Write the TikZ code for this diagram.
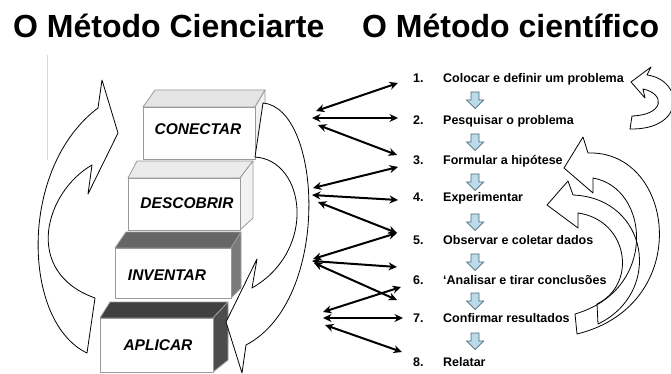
\documentclass[tikz,border=0pt]{standalone}
\usepackage{fontspec}
\setmainfont{Liberation Sans}
\usetikzlibrary{arrows.meta}
\definecolor{arrblue}{HTML}{BCDBE8}
\definecolor{arrline}{HTML}{4A6A78}
\definecolor{boxline}{HTML}{9A9A9A}
\tikzset{
  titletext/.style={font=\fontsize{32}{36}\selectfont\bfseries, inner sep=0pt, anchor=base west},
  itemtext/.style={font=\fontsize{12.5}{14}\selectfont\bfseries, inner sep=0pt, anchor=base west},
  stairtext/.style={font=\fontsize{15.5}{18}\selectfont\bfseries\itshape, inner sep=0pt},
  dbl/.style={{Stealth[length=8.5pt,width=8pt]}-{Stealth[length=8.5pt,width=8pt]}, line width=2pt},
  blockarrow/.style={draw=black, line width=0.8pt, line join=round},
  face/.style={draw=boxline, line width=0.8pt, line join=round},
  downarr/.pic={\draw[fill=arrblue, draw=arrline, line width=0.7pt, line join=miter]
     (-4,-8) -- (4,-8) -- (4,0) -- (8.5,0) -- (0,8.5) -- (-8.5,0) -- (-4,0) -- cycle;}
}
\begin{document}
\begin{tikzpicture}[x=1pt,y=-1pt]
\useasboundingbox (0,0) rectangle (671,374);
\fill[white] (0,0) rectangle (671,374);

% titles
\node[titletext] (t1) at (13,38) {O Método Cienciarte};
\node[titletext] (t2) at (362,38) {O Método científico};

% faint vertical line
\draw[color=black!15, line width=0.8pt] (47,55) -- (47,160);

% left curved block arrow
\path[blockarrow, fill=white] (98,108) -- (102,80) -- (118,133) -- (88,194) -- (92,165)
  .. controls (45,192) and (22,272) .. (95,298) -- (87,353)
  .. controls (22,322) and (18,168) .. (98,108) -- cycle;

% stairs
% CONECTAR
\draw[face, fill=black!10] (143,107) -- (155,90) -- (265,90) -- (255,107) -- cycle;
\draw[face, fill=black!5] (255,107) -- (265,90) -- (265,145) -- (255,159) -- cycle;
\draw[face, fill=white] (143,107) rectangle (255,159);
\node[stairtext] (s1) at (198,129) {CONECTAR};
% DESCOBRIR
\draw[face, fill=black!8] (128,178) -- (137,161) -- (253,161) -- (240,178) -- cycle;
\draw[face, fill=black!5] (240,178) -- (253,161) -- (253,218) -- (240,230) -- cycle;
\draw[face, fill=white] (128,178) rectangle (240,230);
\node[stairtext] (s2) at (187,203) {DESCOBRIR};
% INVENTAR
\draw[face, fill=black!60] (115,248) -- (126,232) -- (241,232) -- (231,248) -- cycle;
\draw[face, fill=black!52] (231,248) -- (241,232) -- (241,288) -- (231,298) -- cycle;
\draw[face, fill=white] (115,248) rectangle (231,298);
\node[stairtext] (s3) at (167,275) {INVENTAR};
% APLICAR
\draw[face, fill=black!75] (100,318) -- (110,302) -- (228,302) -- (213,318) -- cycle;
\draw[face, fill=black!70] (213,318) -- (228,302) -- (228,360) -- (213,372) -- cycle;
\draw[face, fill=white] (100,318) rectangle (213,372);
\node[stairtext] (s4) at (158,345) {APLICAR};

% right stair curved block arrow
\path[blockarrow, fill=white] (263,103) -- (255,157)
  .. controls (305,160) and (318,250) .. (252,288) -- (257,259) -- (226,322) -- (242,373) -- (246,345)
  .. controls (332,300) and (322,108) .. (263,103) -- cycle;

% list numbers and items
\foreach \n/\y in {1/82.5,2/124.5,3/164.5,4/201.5,5/244.5,6/284.5,7/322.5,8/366.5}
  \node[itemtext] (n\n) at (413,\y) {\n.};
\node[itemtext] (i1) at (443,82.5) {Colocar e definir um problema};
\node[itemtext] (i2) at (443,124.5) {Pesquisar o problema};
\node[itemtext] (i3) at (443,164.5) {Formular a hipótese};
\node[itemtext] (i4) at (443,201.5) {Experimentar};
\node[itemtext] (i5) at (443,244.5) {Observar e coletar dados};
\node[itemtext] (i6) at (443,284.5) {‘Analisar e tirar conclusões};
\node[itemtext] (i7) at (443,322.5) {Confirmar resultados};
\node[itemtext] (i8) at (443,366.5) {Relatar};

% small down arrows
\foreach \y in {100,142,182,222,262,301,341}
  \pic at (475,\y) {downarr};

% double-headed connectors
\coordinate (a1l) at (316,111);
\coordinate (a2l) at (312,118);
\coordinate (a3l) at (318,125);
\coordinate (a1r) at (398,83);
\coordinate (a2r) at (398,118);
\coordinate (a3r) at (397,155);
\coordinate (b1l) at (313,188);
\coordinate (b2l) at (312,195);
\coordinate (b3l) at (318,202);
\coordinate (b1r) at (398,167);
\coordinate (b2r) at (398,200);
\coordinate (b3r) at (397,233);
\coordinate (c1l) at (313,259);
\coordinate (c2l) at (312,261);
\coordinate (c3l) at (314,263);
\coordinate (c1r) at (397,233);
\coordinate (c2r) at (397,267);
\coordinate (c3r) at (397,300);
\coordinate (d1l) at (323,312);
\coordinate (d2l) at (323,318);
\coordinate (d3l) at (325,325);
\coordinate (d1r) at (401,287);
\coordinate (d2r) at (403,318);
\coordinate (d3r) at (402,352);
\foreach \g in {a,b,c,d}
  \foreach \k in {1,2,3}
    \draw[dbl] (\g\k l) -- (\g\k r);

% top right U-turn arrow
\path[blockarrow, fill=white] (632,116) -- (630,129)
  .. controls (686,130) and (684,80) .. (647,75) -- (651,67) -- (631,82) -- (645,98) -- (643,89)
  .. controls (666,94) and (664,115) .. (632,116) -- cycle;

% big right arrows
\path[blockarrow] (575,314) -- (577,334)
  .. controls (695,305) and (675,150) .. (588,153) -- (583,137) -- (564,168) -- (593,193) -- (593,178)
  .. controls (650,188) and (658,290) .. (575,314) -- cycle;
\path[blockarrow] (597,304) -- (598,324)
  .. controls (664,292) and (648,198) .. (573,195) -- (568,181) -- (547,205) -- (578,228) -- (578,213)
  .. controls (628,220) and (638,284) .. (597,304) -- cycle;
\end{tikzpicture}
\end{document}
